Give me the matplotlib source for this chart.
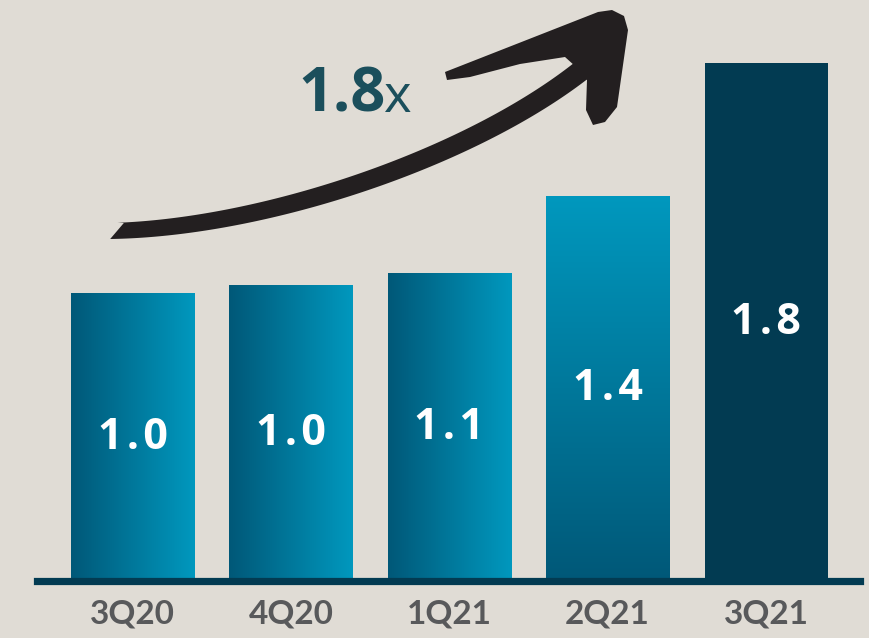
import numpy as np
import matplotlib
matplotlib.use("Agg")
import matplotlib.pyplot as plt
from matplotlib.colors import LinearSegmentedColormap
from matplotlib.patches import Polygon

# data
quarters = ["3Q20", "4Q20", "1Q21", "2Q21", "3Q21"]
values = [1.0, 1.03, 1.07, 1.34, 1.80]
value_labels = ["1.0", "1.0", "1.1", "1.4", "1.8"]
fills = ["hgrad", "hgrad", "hgrad", "vgrad", "solid"]
growth_label = "1.8"

bg = "#E0DCD5"
dark = "#023B52"
light = "#0098BE"
mid_dark = "#005878"
grad = LinearSegmentedColormap.from_list("tealgrad", [mid_dark, light])

fig = plt.figure(figsize=(8.7, 6.38), dpi=100, facecolor=bg)
ax = fig.add_axes([0.0425, 0.0886, 0.946, 0.9114])
ax.set_facecolor(bg)

x = np.arange(len(quarters))
bars = ax.bar(x, values, width=0.777, color=dark, zorder=2)

for b, kind in zip(bars, fills):
    x0, y0 = b.get_x(), b.get_y()
    w, h = b.get_width(), b.get_height()
    if kind == "hgrad":
        img = np.linspace(0, 1, 256).reshape(1, -1)
    elif kind == "vgrad":
        # dark at bottom, light at top
        img = np.linspace(0, 1, 256).reshape(-1, 1)
    else:
        continue
    im = ax.imshow(img, cmap=grad, aspect="auto", origin="lower",
                   extent=[x0, x0 + w, y0, y0 + h], zorder=3,
                   interpolation="bicubic")
    im.set_clip_path(b)
    b.set_facecolor("none")

hair = "\u200a"
for xi, v, lab in zip(x, values, value_labels):
    ax.text(xi, v / 2, hair.join(lab), ha="center", va="center", color="white",
            fontsize=31, fontweight="bold", family=["Open Sans", "DejaVu Sans"],
            zorder=5)

ax.set_xlim(-0.603, 4.593)
ax.set_ylim(0, 2.019)
ax.set_xticks(x)
ax.set_xticklabels(quarters, fontsize=24, fontweight="bold",
                   family="Lato", color="#58595B")
ax.tick_params(axis="x", length=0, pad=13)
ax.set_yticks([])
for s in ["left", "right", "top"]:
    ax.spines[s].set_visible(False)
ax.spines["bottom"].set_color(dark)
ax.spines["bottom"].set_linewidth(5.2)
ax.spines["bottom"].set_zorder(6)

# overlay in pixel space for the curved arrow and the 1.8x note
ov = fig.add_axes([0, 0, 1, 1], zorder=10)
ov.set_xlim(0, 870)
ov.set_ylim(638, 0)
ov.axis("off")
ov.patch.set_alpha(0)

arrow_col = "#231F20"
P0, P1, P2, P3 = map(np.array, [(110, 231), (265, 228), (470, 158), (582, 70)])
t = np.linspace(0, 1, 120)[:, None]
curve = (1 - t) ** 3 * P0 + 3 * (1 - t) ** 2 * t * P1 + 3 * (1 - t) * t ** 2 * P2 + t ** 3 * P3
d = np.gradient(curve, axis=0)
d /= np.linalg.norm(d, axis=1)[:, None]
nrm = np.column_stack([d[:, 1], -d[:, 0]])
hw = 8 + 2.5 * t
upper = curve + nrm * hw
lower = curve - nrm * hw
upper[0] = upper[0] + np.array([14, 0])
upper[1] = upper[1] + np.array([6, 0])
shaft = np.vstack([upper[:1], upper[2:], lower[::-1]])
ov.add_patch(Polygon(shaft, closed=True, color=arrow_col, lw=0, zorder=1))

head = [(445, 72), (598, 12), (612, 10), (624, 16), (628, 30), (617, 107),
        (605, 122), (593, 125), (586, 110), (587, 80), (575, 66), (565, 57),
        (520, 64), (470, 77), (447, 80)]
ov.add_patch(Polygon(head, closed=True, color=arrow_col, lw=0, zorder=1))

ov.text(298, 112, growth_label, ha="left", va="baseline", color="#1B4F5C",
        fontsize=44, fontweight="bold", family="Open Sans")
ov.text(384, 112, "x", ha="left", va="baseline", color="#1B4F5C",
        fontsize=38, family="Open Sans")

fig.savefig("out.png", dpi=100, facecolor=bg)
